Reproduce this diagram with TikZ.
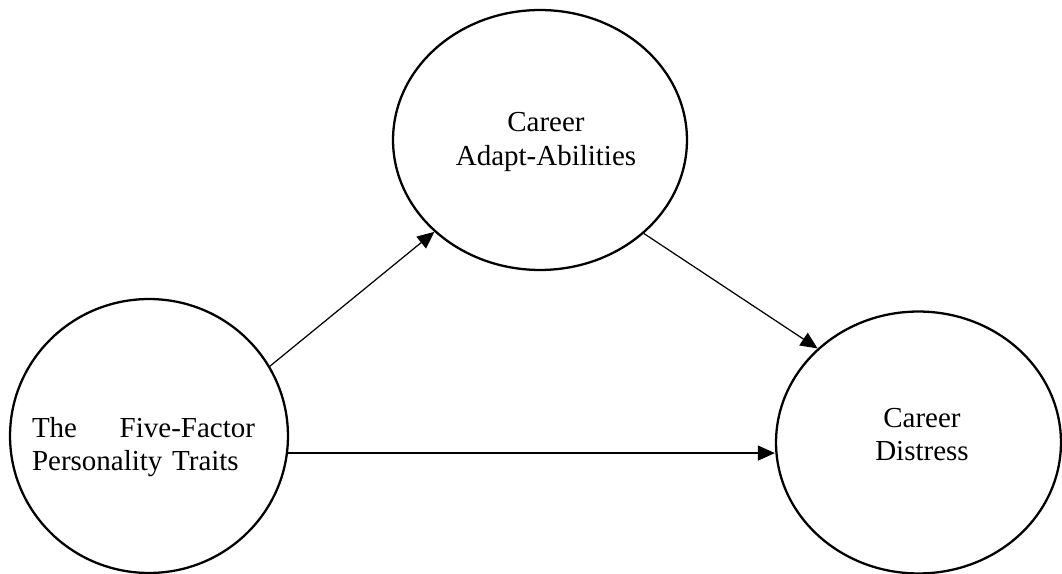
\documentclass[tikz,border=0pt]{standalone}
\usepackage{fontspec}
\setmainfont{Liberation Serif}
\usetikzlibrary{arrows.meta}
\usetikzlibrary{shapes.geometric}

\begin{document}
\begin{tikzpicture}[x=0.02cm, y=-0.02cm,
    factor/.style={ellipse, draw, line width=1.3pt, inner sep=0pt},
    link/.style={-{Triangle[length=0.34cm, width=0.3cm]}, line width=0.7pt},
    lbl/.style={font=\fontsize{16.5}{18.8}\selectfont, align=center, inner sep=0pt}]
    \useasboundingbox (0,0) rectangle (1062,574);

    \node[factor, minimum width=5.56cm, minimum height=5.48cm] (traits) at (149,436) {};
    \node[factor, minimum width=5.88cm, minimum height=5.2cm] (adapt) at (540,140) {};
    \node[factor, minimum width=5.70cm, minimum height=5.24cm] (distress) at (918.5,442.5) {};

    \node[lbl, text width=4.46cm, align=left] (traitstext) at (143.5,447) {The\hskip 0pt plus 1filll Five-Factor\\Personality Traits};
    \node[lbl] (adapttext) at (546,142) {Career\\Adapt-Abilities};
    \node[lbl] (distresstext) at (922,435) {Career\\Distress};

    \draw[link] (traits.30) -- (adapt.221);
    \draw[link] (adapt.318) -- (distress.137);
    \draw[link] (traits.-7) -- (traits.-7 -| distress.west);
  \end{tikzpicture}
\end{document}
